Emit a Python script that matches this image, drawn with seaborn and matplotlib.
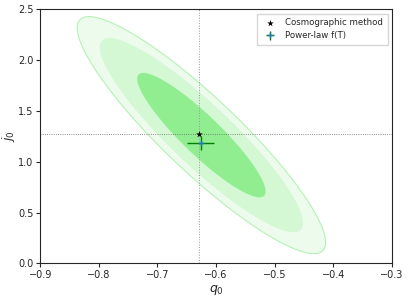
import matplotlib
matplotlib.use("Agg")
import matplotlib.pyplot as plt
import numpy as np
import seaborn as sns

# confidence contours (centre, half extents in q0 and j0, correlation)
contour_center = (-0.625, 1.262)
contour_half_q = [0.212, 0.1735, 0.1095]
contour_half_j = [1.166, 0.955, 0.612]
contour_rho = -0.905
contour_colors = ["#edfbed", "#d4f7d4", "#90ee90"]

# cosmographic estimate
q0_cosmo = -0.629
j0_cosmo = 1.27

# power-law f(T) estimate with errors
q0_pl = -0.626
j0_pl = 1.188
q0_pl_err = 0.023
j0_pl_err = 0.068

sns.set_style("ticks")
plt.rcParams["font.family"] = ["DejaVu Sans"]

fig = plt.figure(figsize=(4.09, 3.0), dpi=100)
ax = fig.add_axes([0.0985, 0.122, 0.8595, 0.847])

t = np.linspace(0, 2 * np.pi, 400)
s = np.sqrt(1 - contour_rho ** 2)
for i, (hq, hj, c) in enumerate(zip(contour_half_q, contour_half_j, contour_colors)):
    xs = contour_center[0] + hq * np.cos(t)
    ys = contour_center[1] + hj * (contour_rho * np.cos(t) + s * np.sin(t))
    ax.fill(xs, ys, color=c, lw=0)
    if i == 0:
        ax.plot(xs, ys, color="#b4f2b4", lw=0.8)

ax.axvline(q0_cosmo, color="0.6", ls=":", lw=0.7)
ax.axhline(j0_cosmo, color="0.4", ls=":", lw=0.6)

sns.scatterplot(x=[q0_cosmo], y=[j0_cosmo], marker="*", color="black", s=25,
                edgecolor="black", linewidth=0, ax=ax, label="Cosmographic method", zorder=5)
ax.errorbar(q0_pl, j0_pl, xerr=q0_pl_err, yerr=j0_pl_err, fmt="+", color="C0",
            ecolor="green", elinewidth=1.0, ms=5, label="Power-law f(T)", zorder=4)

ax.set_xlim(-0.9, -0.3)
ax.set_ylim(0.0, 2.5)
ax.set_xticks(np.arange(-0.9, -0.29, 0.1))
ax.set_yticks(np.arange(0, 2.51, 0.5))
ax.tick_params(labelsize=7, length=3, width=0.8, pad=2)
ax.set_xlabel("$q_0$", fontsize=9, labelpad=2)
ax.set_ylabel("$j_0$", fontsize=9, labelpad=0.5)
for sp in ax.spines.values():
    sp.set_linewidth(0.8)

leg = ax.legend(loc="upper right", fontsize=6.2, frameon=True, fancybox=False,
                edgecolor="0.8", borderpad=0.5, handletextpad=0.8)

fig.savefig("out.png", dpi=100)
